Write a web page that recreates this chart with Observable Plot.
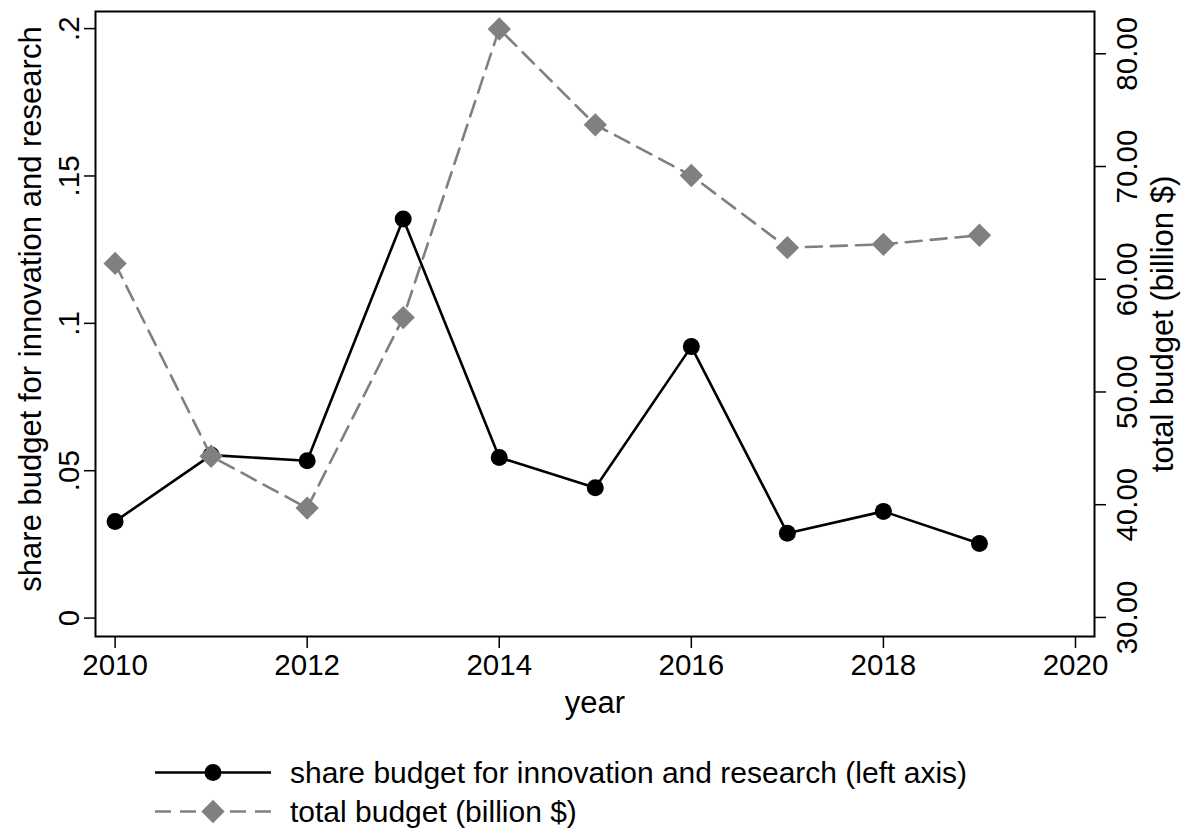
<!DOCTYPE html>
<html>
<head>
<meta charset="utf-8">
<script src="https://cdn.jsdelivr.net/npm/d3@7"></script>
<script src="https://cdn.jsdelivr.net/npm/@observablehq/plot@0.6"></script>
<style>
  body { margin: 0; background: #fff; font-family: "Liberation Sans", Arial, Helvetica, sans-serif; }
  #legend { position: absolute; left: 155px; top: 753px; font-size: 30px; color: #000; }
  .row { display: flex; align-items: center; height: 39px; white-space: nowrap; }
  .row svg { margin-right: 19px; flex: none; }
</style>
</head>
<body>
<div id="chart"></div>
<div id="legend"></div>
<script>
// ---- data ----
const years = [2010, 2011, 2012, 2013, 2014, 2015, 2016, 2017, 2018, 2019];
const shareRI = [0.0328, 0.0553, 0.0534, 0.1354, 0.0545, 0.0442, 0.0921, 0.0288, 0.0362, 0.0253];
const totalBudget = [61.4, 44.3, 39.7, 56.6, 82.2, 73.7, 69.2, 62.8, 63.1, 63.9];
const xTicks = [2010, 2012, 2014, 2016, 2018, 2020];
const leftTicks = [0, 0.05, 0.1, 0.15, 0.2];
const rightTicks = [30, 40, 50, 60, 70, 80];
const leftTitle = "share budget for innovation and research";
const rightTitle = "total budget (billion $)";
const xTitle = "year";
const legendLabels = ["share budget for innovation and research (left axis)", "total budget (billion $)"];

// ---- scales ----
const leftDomain = [-0.00625, 0.2058];
const rightDomain = [28.31, 83.75];
const toLeft = d3.scaleLinear().domain(rightDomain).range(leftDomain);
const data = years.map((year, i) => ({ year, share: shareRI[i], total: totalBudget[i], totalOnLeft: toLeft(totalBudget[i]) }));
const fmtLeft = d => d === 0 ? "0" : String(+d.toFixed(4)).replace(/^0/, "");
const font = '"Liberation Sans", Arial, Helvetica, sans-serif';
const gray = "#808080";
const tickFont = 29.5;
const titleFont = 31;

const chart = Plot.plot({
  width: 1182,
  height: 740,
  marginLeft: 95,
  marginRight: 88,
  marginTop: 11,
  marginBottom: 104,
  style: { fontFamily: font, fontSize: tickFont + "px", color: "#000", background: "#fff" },
  x: { domain: [2009.796, 2020.198] },
  y: { domain: leftDomain },
  marks: [
    Plot.frame({ stroke: "#000", strokeWidth: 2 }),
    Plot.axisX({ ticks: xTicks, tickFormat: d => String(d), tickSize: 12, tickPadding: 6, label: null, strokeWidth: 1.5, fontSize: tickFont }),
    Plot.axisY({ ticks: leftTicks, tickFormat: fmtLeft, tickSize: 11, tickPadding: 6, tickRotate: -90, label: null, strokeWidth: 1.5, fontSize: tickFont }),
    Plot.axisY({ anchor: "right", ticks: rightTicks.map(toLeft), tickFormat: null, text: null, tickSize: 11, label: null, strokeWidth: 1.5 }),
    Plot.text(rightTicks, { y: d => toLeft(d), text: d => d.toFixed(2), frameAnchor: "right", rotate: -90, textAnchor: "middle", lineAnchor: "middle", dx: 33, fontSize: tickFont }),
    Plot.text([xTitle], { frameAnchor: "bottom", dy: 76, fontSize: titleFont }),
    Plot.text([leftTitle], { frameAnchor: "left", rotate: -90, textAnchor: "middle", dx: -64, dy: -15, fontSize: titleFont }),
    Plot.text([rightTitle], { frameAnchor: "right", rotate: -90, textAnchor: "middle", dx: 69, fontSize: titleFont }),
    Plot.line(data, { x: "year", y: "share", stroke: "#000", strokeWidth: 2.6 }),
    Plot.dot(data, { x: "year", y: "share", r: 8.5, fill: "#000" }),
    Plot.line(data, { x: "year", y: "totalOnLeft", stroke: gray, strokeWidth: 2.6, strokeDasharray: "16,9" }),
    Plot.dot(data, { x: "year", y: "totalOnLeft", r: 10.5, symbol: "diamond2", fill: gray, stroke: "none" })
  ]
});
document.getElementById("chart").append(chart);

// ---- legend ----
const legend = d3.select("#legend");
const rows = [
  { label: legendLabels[0], color: "#000", dash: null, shape: "circle" },
  { label: legendLabels[1], color: gray, dash: "16,9", shape: "diamond" }
];
for (const r of rows) {
  const row = legend.append("div").attr("class", "row");
  const s = row.append("svg").attr("width", 116).attr("height", 39);
  s.append("line").attr("x1", 0).attr("x2", 116).attr("y1", 19.5).attr("y2", 19.5)
    .attr("stroke", r.color).attr("stroke-width", 2.6).attr("stroke-dasharray", r.dash);
  if (r.shape === "circle") s.append("circle").attr("cx", 58).attr("cy", 19.5).attr("r", 8.5).attr("fill", r.color);
  else s.append("path").attr("d", d3.symbol(d3.symbolDiamond2, Math.PI * 10.5 * 10.5)()).attr("transform", "translate(58,19.5)").attr("fill", r.color);
  row.append("span").text(r.label);
}
</script>
</body>
</html>
